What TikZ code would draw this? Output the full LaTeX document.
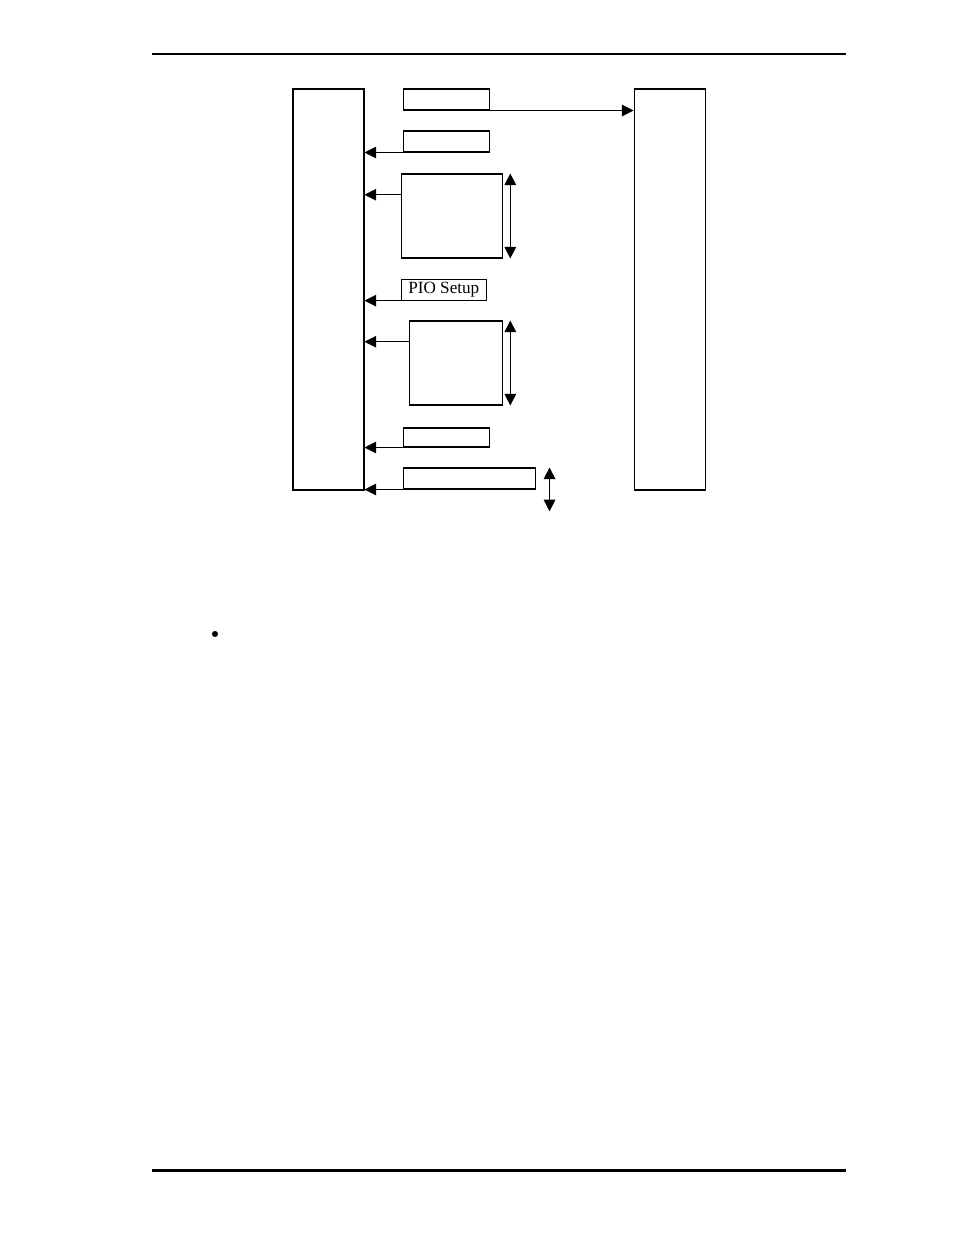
\documentclass[tikz,border=0pt]{standalone}
\usepackage{fontspec}
\setmainfont{Liberation Serif}
\usetikzlibrary{arrows.meta,calc,fit,positioning}
\tikzset{
    blk/.style ={rectangle, draw, line width=0.65pt, inner sep=0pt, fit={#1}},
    tag/.style ={rectangle, draw, line width=0.65pt, inner sep=0pt,
        minimum width=54.5pt, minimum height=13.5pt, font=\fontsize{11}{13}\selectfont},
    arr/.style = {-{Triangle[length=7.5pt,width=7.5pt]}, line width=0.65pt},
    dbl/.style = {{Triangle[length=7.5pt,width=7.5pt]}-{Triangle[length=7.5pt,width=7.5pt]}, line width=0.65pt},
    rule/.style = {line width=#1},
    dot/.style = {circle, fill, inner sep=0pt, minimum size=3.9pt}
}

\begin{document}
\begin{tikzpicture}[x=0.6414pt,y=-0.6414pt]
      \useasboundingbox (0,0) rectangle (954,1235);
      % page rules
      \coordinate (topL) at (152,54);
      \coordinate (topR) at (846,54);
      \coordinate (botL) at (152,1170.5);
      \coordinate (botR) at (846,1170.5);
      \draw[rule=0.7pt] (topL) -- (topR);
      \draw[rule=1.4pt] (botL) -- (botR);

      % the two sides
      \node[blk={(293,89) (364,490)}] (host) {};
      \node[blk={(634,89) (705,490)}] (dev) {};

      % the frames
      \node[blk={(403,89) (489,110)}] (f1) {};
      \node[blk={(403,131) (489,152)}] (f2) {};
      \node[blk={(401,174) (502,258)}] (f3) {};
      \node[tag] (pio) at (443.8,289.6) {PIO Setup};
      \node[blk={(409,321) (502,405)}] (f5) {};
      \node[blk={(403,428) (489,447)}] (f6) {};
      \node[blk={(403,468) (535,489)}] (f7) {};

      \draw[arr] (f1.south east) -- (f1.south east -| dev.west);
      \draw[arr] (f2.south west) -- (f2.south west -| host.east);
      \draw[arr] ($(f3.north west)!.25!(f3.south west)$) coordinate (t3) -- (t3 -| host.east);
      \draw[arr] (pio.south west) -- (pio.south west -| host.east);
      \draw[arr] ($(f5.north west)!.25!(f5.south west)$) coordinate (t5) -- (t5 -| host.east);
      \draw[arr] (f6.south west) -- (f6.south west -| host.east);
      \draw[arr] (f7.south west) -- (f7.south west -| host.east);

      \draw[dbl] ([xshift=5pt]f3.north east) -- ([xshift=5pt]f3.south east);
      \draw[dbl] ([xshift=5pt]f5.north east) -- ([xshift=5pt]f5.south east);
      \draw[dbl] ([xshift=9pt]f7.north east) -- ([xshift=9pt,yshift=-14pt]f7.south east);

      \node[dot] (bul) at (215,634) {};
    \end{tikzpicture}
\end{document}
